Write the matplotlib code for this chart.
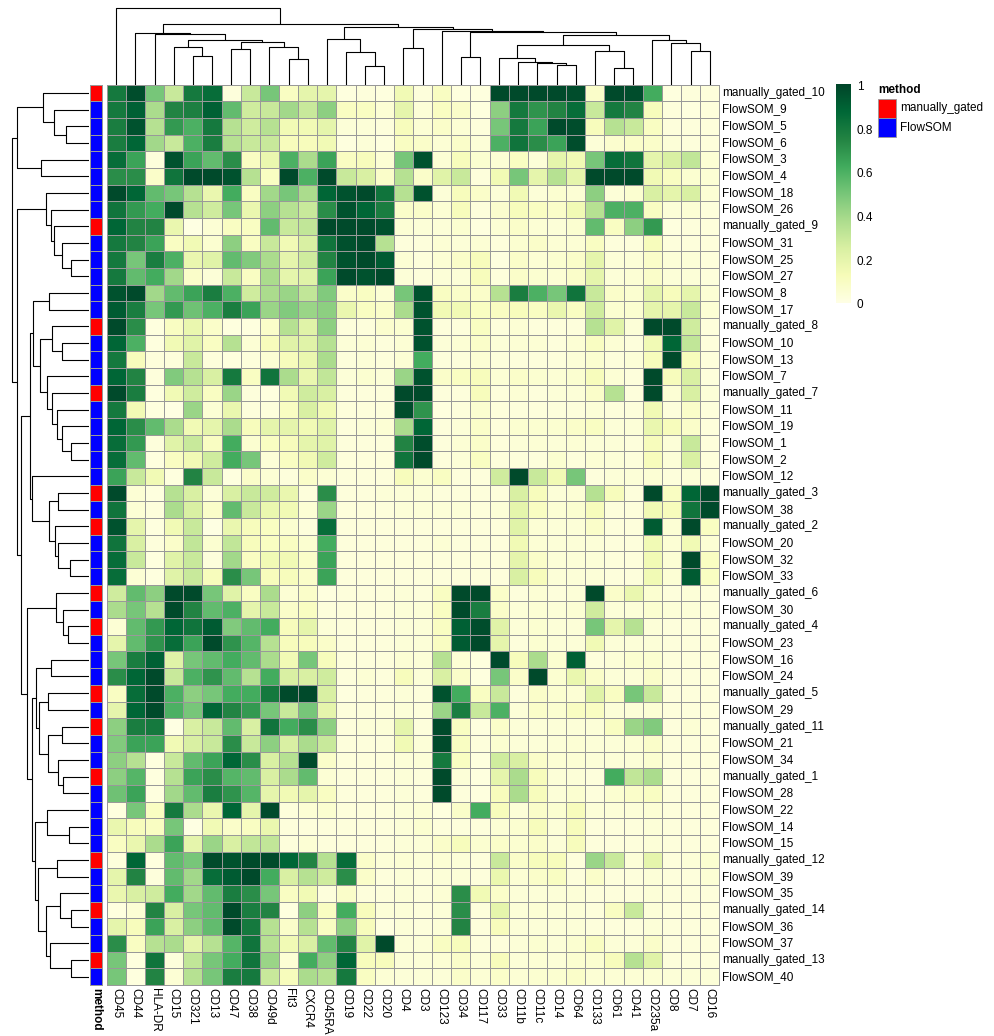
import numpy as np
import matplotlib
matplotlib.use("Agg")
import matplotlib.pyplot as plt
from matplotlib.colors import ListedColormap
from matplotlib.patches import Rectangle
from matplotlib import transforms

plt.rcParams['font.family'] = ['Liberation Sans', 'DejaVu Sans']

markers = ["CD45", "CD44", "HLA-DR", "CD15", "CD321", "CD13", "CD47", "CD38",
           "CD49d", "Flt3", "CXCR4", "CD45RA", "CD19", "CD22", "CD20", "CD4",
           "CD3", "CD123", "CD34", "CD117", "CD33", "CD11b", "CD11c", "CD14",
           "CD64", "CD133", "CD61", "CD41", "CD235a", "CD8", "CD7", "CD16"]

clusters = ["manually_gated_10", "FlowSOM_9", "FlowSOM_5", "FlowSOM_6", "FlowSOM_3",
            "FlowSOM_4", "FlowSOM_18", "FlowSOM_26", "manually_gated_9", "FlowSOM_31",
            "FlowSOM_25", "FlowSOM_27", "FlowSOM_8", "FlowSOM_17", "manually_gated_8",
            "FlowSOM_10", "FlowSOM_13", "FlowSOM_7", "manually_gated_7", "FlowSOM_11",
            "FlowSOM_19", "FlowSOM_1", "FlowSOM_2", "FlowSOM_12", "manually_gated_3",
            "FlowSOM_38", "manually_gated_2", "FlowSOM_20", "FlowSOM_32", "FlowSOM_33",
            "manually_gated_6", "FlowSOM_30", "manually_gated_4", "FlowSOM_23", "FlowSOM_16",
            "FlowSOM_24", "manually_gated_5", "FlowSOM_29", "manually_gated_11", "FlowSOM_21",
            "FlowSOM_34", "manually_gated_1", "FlowSOM_28", "FlowSOM_22", "FlowSOM_14",
            "FlowSOM_15", "manually_gated_12", "FlowSOM_39", "FlowSOM_35", "manually_gated_14",
            "FlowSOM_36", "FlowSOM_37", "manually_gated_13", "FlowSOM_40"]

method = ["manually_gated" if c.startswith("manually") else "FlowSOM" for c in clusters]
method_levels = ["manually_gated", "FlowSOM"]
method_colors = ["#FF0000", "#0000FF"]

# scaled median marker expression, one row per cluster (columns follow `markers`)
expr = [
    [0.80, 0.97, 0.50, 0.30, 0.80, 0.85, 0.03, 0.30, 0.50, 0.10, 0.20, 0.20, 0.02, 0.03, 0.02, 0.15, 0.03, 0.10, 0.02, 0.02, 0.98, 0.98, 0.98, 0.98, 0.97, 0.08, 0.98, 0.97, 0.62, 0.02, 0.03, 0.03],
    [0.80, 0.90, 0.38, 0.75, 0.77, 0.90, 0.55, 0.28, 0.30, 0.40, 0.30, 0.45, 0.10, 0.10, 0.05, 0.20, 0.04, 0.10, 0.08, 0.02, 0.45, 0.80, 0.70, 0.75, 0.85, 0.30, 0.80, 0.75, 0.12, 0.03, 0.02, 0.03],
    [0.78, 0.95, 0.35, 0.68, 0.60, 0.80, 0.35, 0.28, 0.35, 0.15, 0.15, 0.20, 0.04, 0.04, 0.03, 0.12, 0.05, 0.08, 0.05, 0.03, 0.50, 0.80, 0.65, 0.98, 0.97, 0.12, 0.35, 0.30, 0.10, 0.03, 0.03, 0.03],
    [0.78, 0.88, 0.40, 0.30, 0.60, 0.78, 0.35, 0.30, 0.30, 0.12, 0.12, 0.15, 0.02, 0.04, 0.02, 0.10, 0.08, 0.05, 0.08, 0.04, 0.60, 0.82, 0.72, 0.65, 0.97, 0.04, 0.07, 0.08, 0.08, 0.04, 0.03, 0.03],
    [0.85, 0.65, 0.03, 0.95, 0.65, 0.55, 0.72, 0.10, 0.18, 0.60, 0.38, 0.65, 0.10, 0.12, 0.05, 0.50, 0.95, 0.05, 0.12, 0.06, 0.05, 0.10, 0.04, 0.20, 0.15, 0.50, 0.85, 0.82, 0.20, 0.25, 0.32, 0.05],
    [0.72, 0.72, 0.08, 0.82, 0.98, 0.98, 0.95, 0.35, 0.10, 0.98, 0.60, 0.98, 0.30, 0.25, 0.08, 0.35, 0.08, 0.22, 0.30, 0.03, 0.15, 0.50, 0.20, 0.35, 0.20, 0.98, 0.98, 0.98, 0.15, 0.10, 0.06, 0.05],
    [0.98, 0.88, 0.55, 0.50, 0.35, 0.18, 0.62, 0.10, 0.40, 0.50, 0.38, 0.88, 0.95, 0.98, 0.82, 0.35, 0.95, 0.04, 0.12, 0.08, 0.04, 0.15, 0.04, 0.06, 0.05, 0.45, 0.04, 0.06, 0.25, 0.20, 0.25, 0.05],
    [0.82, 0.68, 0.62, 0.98, 0.35, 0.28, 0.50, 0.18, 0.45, 0.35, 0.30, 0.72, 0.95, 0.88, 0.78, 0.08, 0.08, 0.05, 0.12, 0.03, 0.07, 0.12, 0.10, 0.08, 0.15, 0.35, 0.60, 0.60, 0.10, 0.04, 0.05, 0.03],
    [0.88, 0.75, 0.75, 0.18, 0.01, 0.05, 0.10, 0.10, 0.55, 0.30, 0.32, 0.98, 0.98, 0.98, 0.96, 0.05, 0.04, 0.04, 0.06, 0.02, 0.05, 0.08, 0.05, 0.04, 0.06, 0.55, 0.10, 0.45, 0.68, 0.02, 0.03, 0.03],
    [0.80, 0.75, 0.65, 0.10, 0.15, 0.06, 0.45, 0.10, 0.30, 0.15, 0.25, 0.82, 0.96, 0.98, 0.35, 0.03, 0.03, 0.05, 0.04, 0.05, 0.03, 0.06, 0.08, 0.05, 0.05, 0.10, 0.03, 0.03, 0.12, 0.03, 0.03, 0.03],
    [0.80, 0.50, 0.78, 0.60, 0.18, 0.22, 0.55, 0.48, 0.38, 0.20, 0.28, 0.75, 0.95, 0.98, 0.92, 0.05, 0.03, 0.05, 0.08, 0.12, 0.02, 0.08, 0.05, 0.06, 0.08, 0.20, 0.04, 0.04, 0.08, 0.04, 0.04, 0.03],
    [0.80, 0.55, 0.62, 0.40, 0.08, 0.04, 0.30, 0.10, 0.38, 0.20, 0.22, 0.65, 0.98, 0.95, 0.98, 0.04, 0.03, 0.04, 0.04, 0.12, 0.03, 0.08, 0.06, 0.05, 0.08, 0.20, 0.04, 0.05, 0.08, 0.04, 0.04, 0.03],
    [0.95, 0.98, 0.40, 0.55, 0.65, 0.78, 0.60, 0.28, 0.38, 0.42, 0.32, 0.48, 0.08, 0.10, 0.05, 0.50, 0.95, 0.10, 0.08, 0.08, 0.35, 0.78, 0.60, 0.50, 0.82, 0.30, 0.08, 0.06, 0.20, 0.12, 0.20, 0.05],
    [0.92, 0.78, 0.50, 0.68, 0.52, 0.60, 0.78, 0.65, 0.42, 0.48, 0.42, 0.45, 0.18, 0.10, 0.08, 0.38, 0.95, 0.15, 0.15, 0.10, 0.10, 0.12, 0.10, 0.18, 0.10, 0.28, 0.06, 0.06, 0.20, 0.20, 0.30, 0.05],
    [0.98, 0.72, 0.02, 0.10, 0.18, 0.08, 0.02, 0.02, 0.08, 0.35, 0.22, 0.45, 0.03, 0.03, 0.07, 0.06, 0.95, 0.03, 0.03, 0.10, 0.03, 0.05, 0.03, 0.03, 0.03, 0.35, 0.22, 0.04, 0.98, 0.98, 0.28, 0.03],
    [0.88, 0.60, 0.02, 0.15, 0.22, 0.10, 0.35, 0.05, 0.12, 0.22, 0.22, 0.35, 0.04, 0.05, 0.03, 0.05, 0.95, 0.04, 0.05, 0.08, 0.04, 0.05, 0.05, 0.03, 0.05, 0.10, 0.05, 0.03, 0.15, 0.88, 0.32, 0.03],
    [0.80, 0.12, 0.03, 0.03, 0.30, 0.03, 0.02, 0.03, 0.05, 0.12, 0.18, 0.38, 0.03, 0.04, 0.03, 0.05, 0.62, 0.03, 0.03, 0.05, 0.03, 0.03, 0.03, 0.03, 0.04, 0.06, 0.03, 0.04, 0.12, 0.98, 0.12, 0.03],
    [0.88, 0.75, 0.03, 0.48, 0.35, 0.25, 0.80, 0.10, 0.82, 0.38, 0.18, 0.32, 0.04, 0.06, 0.04, 0.42, 0.95, 0.08, 0.10, 0.12, 0.05, 0.08, 0.06, 0.05, 0.06, 0.12, 0.05, 0.03, 0.98, 0.12, 0.25, 0.03],
    [0.98, 0.78, 0.02, 0.15, 0.28, 0.10, 0.42, 0.03, 0.02, 0.15, 0.28, 0.25, 0.03, 0.03, 0.03, 0.98, 0.98, 0.03, 0.03, 0.12, 0.03, 0.05, 0.03, 0.04, 0.04, 0.08, 0.35, 0.03, 0.98, 0.05, 0.25, 0.04],
    [0.80, 0.15, 0.02, 0.01, 0.42, 0.05, 0.18, 0.03, 0.03, 0.10, 0.25, 0.15, 0.03, 0.03, 0.03, 0.97, 0.70, 0.02, 0.03, 0.06, 0.03, 0.03, 0.03, 0.03, 0.03, 0.04, 0.03, 0.03, 0.15, 0.03, 0.08, 0.03],
    [0.88, 0.72, 0.55, 0.38, 0.15, 0.20, 0.38, 0.12, 0.20, 0.20, 0.15, 0.22, 0.03, 0.04, 0.05, 0.38, 0.88, 0.03, 0.04, 0.08, 0.03, 0.06, 0.06, 0.06, 0.08, 0.10, 0.04, 0.04, 0.18, 0.12, 0.08, 0.03],
    [0.85, 0.68, 0.03, 0.22, 0.30, 0.10, 0.62, 0.06, 0.10, 0.12, 0.20, 0.22, 0.03, 0.03, 0.03, 0.75, 0.97, 0.03, 0.05, 0.08, 0.03, 0.04, 0.05, 0.04, 0.05, 0.04, 0.04, 0.03, 0.12, 0.04, 0.30, 0.03],
    [0.85, 0.55, 0.02, 0.10, 0.15, 0.28, 0.62, 0.50, 0.04, 0.10, 0.15, 0.28, 0.03, 0.03, 0.03, 0.82, 0.98, 0.03, 0.04, 0.10, 0.03, 0.03, 0.03, 0.06, 0.03, 0.05, 0.04, 0.03, 0.12, 0.04, 0.25, 0.03],
    [0.65, 0.30, 0.15, 0.02, 0.75, 0.30, 0.02, 0.08, 0.05, 0.03, 0.08, 0.05, 0.03, 0.03, 0.03, 0.12, 0.06, 0.10, 0.03, 0.03, 0.28, 0.98, 0.30, 0.15, 0.50, 0.03, 0.04, 0.04, 0.05, 0.03, 0.04, 0.03],
    [0.98, 0.05, 0.02, 0.35, 0.25, 0.04, 0.25, 0.30, 0.28, 0.18, 0.03, 0.72, 0.03, 0.03, 0.04, 0.04, 0.04, 0.03, 0.03, 0.03, 0.03, 0.25, 0.12, 0.04, 0.05, 0.35, 0.12, 0.03, 0.98, 0.10, 0.88, 0.98],
    [0.82, 0.05, 0.03, 0.38, 0.25, 0.08, 0.55, 0.30, 0.18, 0.15, 0.05, 0.42, 0.03, 0.03, 0.03, 0.04, 0.04, 0.04, 0.04, 0.03, 0.04, 0.20, 0.10, 0.05, 0.06, 0.12, 0.03, 0.03, 0.15, 0.12, 0.82, 0.98],
    [0.95, 0.20, 0.02, 0.15, 0.30, 0.01, 0.18, 0.12, 0.10, 0.06, 0.03, 0.85, 0.03, 0.03, 0.03, 0.03, 0.03, 0.03, 0.03, 0.03, 0.03, 0.22, 0.05, 0.04, 0.04, 0.08, 0.03, 0.03, 0.92, 0.05, 0.98, 0.10],
    [0.82, 0.25, 0.03, 0.08, 0.32, 0.06, 0.32, 0.12, 0.10, 0.10, 0.06, 0.62, 0.03, 0.03, 0.03, 0.03, 0.03, 0.05, 0.03, 0.03, 0.03, 0.15, 0.05, 0.04, 0.04, 0.04, 0.03, 0.03, 0.15, 0.05, 0.15, 0.05],
    [0.85, 0.30, 0.02, 0.22, 0.30, 0.03, 0.40, 0.10, 0.15, 0.15, 0.08, 0.65, 0.03, 0.03, 0.03, 0.03, 0.03, 0.03, 0.03, 0.03, 0.03, 0.20, 0.08, 0.04, 0.04, 0.04, 0.03, 0.03, 0.15, 0.05, 0.98, 0.10],
    [0.85, 0.05, 0.02, 0.22, 0.30, 0.12, 0.72, 0.50, 0.12, 0.12, 0.08, 0.65, 0.03, 0.03, 0.03, 0.03, 0.03, 0.03, 0.03, 0.03, 0.03, 0.25, 0.12, 0.04, 0.04, 0.04, 0.03, 0.03, 0.15, 0.05, 0.92, 0.10],
    [0.28, 0.55, 0.45, 0.98, 0.98, 0.50, 0.22, 0.10, 0.38, 0.05, 0.08, 0.02, 0.03, 0.03, 0.03, 0.04, 0.03, 0.10, 0.98, 0.98, 0.08, 0.03, 0.05, 0.03, 0.04, 0.98, 0.08, 0.18, 0.06, 0.03, 0.04, 0.03],
    [0.38, 0.50, 0.35, 0.98, 0.75, 0.55, 0.60, 0.20, 0.30, 0.08, 0.10, 0.03, 0.03, 0.03, 0.03, 0.04, 0.04, 0.10, 0.98, 0.78, 0.08, 0.04, 0.05, 0.04, 0.05, 0.28, 0.04, 0.04, 0.06, 0.04, 0.04, 0.03],
    [0.05, 0.55, 0.68, 0.88, 0.82, 0.92, 0.48, 0.55, 0.62, 0.12, 0.20, 0.04, 0.03, 0.03, 0.03, 0.04, 0.04, 0.10, 0.90, 0.97, 0.22, 0.04, 0.06, 0.04, 0.04, 0.50, 0.20, 0.35, 0.04, 0.03, 0.03, 0.03],
    [0.20, 0.55, 0.70, 0.85, 0.65, 0.98, 0.70, 0.58, 0.35, 0.12, 0.12, 0.08, 0.03, 0.03, 0.03, 0.04, 0.04, 0.10, 0.92, 0.98, 0.20, 0.03, 0.06, 0.04, 0.04, 0.15, 0.04, 0.04, 0.04, 0.03, 0.03, 0.03],
    [0.50, 0.78, 0.90, 0.22, 0.50, 0.55, 0.62, 0.55, 0.38, 0.15, 0.50, 0.12, 0.03, 0.03, 0.03, 0.05, 0.04, 0.35, 0.05, 0.02, 0.98, 0.12, 0.38, 0.06, 0.90, 0.03, 0.04, 0.06, 0.06, 0.03, 0.03, 0.03],
    [0.72, 0.88, 0.98, 0.30, 0.60, 0.70, 0.55, 0.35, 0.62, 0.25, 0.25, 0.28, 0.03, 0.05, 0.03, 0.12, 0.04, 0.25, 0.08, 0.02, 0.50, 0.08, 0.98, 0.06, 0.18, 0.08, 0.04, 0.04, 0.08, 0.03, 0.03, 0.03],
    [0.10, 0.85, 0.98, 0.60, 0.45, 0.50, 0.62, 0.62, 0.80, 0.98, 0.98, 0.25, 0.02, 0.03, 0.03, 0.04, 0.03, 0.95, 0.62, 0.10, 0.30, 0.03, 0.08, 0.06, 0.05, 0.22, 0.10, 0.50, 0.30, 0.03, 0.03, 0.03],
    [0.20, 0.88, 0.98, 0.60, 0.50, 0.88, 0.75, 0.68, 0.50, 0.30, 0.50, 0.20, 0.03, 0.03, 0.03, 0.04, 0.03, 0.42, 0.78, 0.30, 0.60, 0.04, 0.08, 0.06, 0.10, 0.10, 0.04, 0.04, 0.05, 0.03, 0.03, 0.03],
    [0.45, 0.78, 0.80, 0.01, 0.25, 0.30, 0.55, 0.25, 0.82, 0.62, 0.72, 0.45, 0.03, 0.04, 0.04, 0.20, 0.03, 0.98, 0.10, 0.02, 0.08, 0.04, 0.04, 0.04, 0.04, 0.04, 0.10, 0.42, 0.48, 0.03, 0.05, 0.03],
    [0.48, 0.65, 0.65, 0.15, 0.25, 0.30, 0.72, 0.30, 0.45, 0.25, 0.38, 0.30, 0.03, 0.03, 0.03, 0.15, 0.04, 0.98, 0.10, 0.03, 0.06, 0.04, 0.04, 0.04, 0.05, 0.04, 0.04, 0.05, 0.08, 0.03, 0.03, 0.03],
    [0.45, 0.35, 0.02, 0.30, 0.55, 0.65, 0.88, 0.72, 0.25, 0.35, 0.98, 0.08, 0.03, 0.03, 0.03, 0.04, 0.04, 0.80, 0.10, 0.02, 0.28, 0.25, 0.08, 0.05, 0.05, 0.04, 0.04, 0.04, 0.06, 0.03, 0.03, 0.03],
    [0.45, 0.58, 0.02, 0.35, 0.65, 0.72, 0.58, 0.55, 0.25, 0.38, 0.55, 0.05, 0.03, 0.03, 0.03, 0.04, 0.03, 0.98, 0.04, 0.02, 0.20, 0.38, 0.12, 0.04, 0.04, 0.03, 0.62, 0.32, 0.38, 0.03, 0.03, 0.03],
    [0.52, 0.65, 0.02, 0.40, 0.55, 0.78, 0.70, 0.58, 0.20, 0.15, 0.20, 0.10, 0.03, 0.03, 0.03, 0.04, 0.03, 0.98, 0.03, 0.02, 0.12, 0.38, 0.12, 0.04, 0.06, 0.03, 0.06, 0.08, 0.10, 0.03, 0.03, 0.03],
    [0.02, 0.50, 0.10, 0.80, 0.38, 0.18, 0.88, 0.20, 0.98, 0.03, 0.05, 0.06, 0.03, 0.03, 0.03, 0.04, 0.05, 0.02, 0.08, 0.62, 0.12, 0.04, 0.08, 0.06, 0.12, 0.04, 0.04, 0.04, 0.05, 0.03, 0.03, 0.03],
    [0.18, 0.12, 0.10, 0.50, 0.01, 0.15, 0.08, 0.10, 0.18, 0.03, 0.03, 0.03, 0.03, 0.03, 0.03, 0.04, 0.06, 0.03, 0.03, 0.03, 0.05, 0.06, 0.12, 0.04, 0.12, 0.03, 0.03, 0.03, 0.04, 0.03, 0.03, 0.03],
    [0.10, 0.18, 0.38, 0.65, 0.20, 0.42, 0.25, 0.32, 0.32, 0.03, 0.05, 0.03, 0.03, 0.03, 0.03, 0.04, 0.04, 0.08, 0.12, 0.06, 0.08, 0.06, 0.08, 0.04, 0.12, 0.03, 0.03, 0.03, 0.04, 0.03, 0.03, 0.03],
    [0.03, 0.88, 0.02, 0.55, 0.50, 0.98, 0.95, 0.98, 0.98, 0.88, 0.75, 0.35, 0.85, 0.08, 0.04, 0.05, 0.04, 0.05, 0.04, 0.03, 0.30, 0.08, 0.12, 0.12, 0.03, 0.42, 0.30, 0.04, 0.20, 0.03, 0.04, 0.06],
    [0.20, 0.75, 0.03, 0.55, 0.40, 0.85, 0.92, 0.98, 0.62, 0.25, 0.35, 0.28, 0.72, 0.08, 0.03, 0.04, 0.03, 0.04, 0.04, 0.03, 0.18, 0.05, 0.08, 0.10, 0.03, 0.08, 0.03, 0.03, 0.04, 0.03, 0.03, 0.05],
    [0.18, 0.25, 0.28, 0.62, 0.40, 0.55, 0.78, 0.72, 0.50, 0.10, 0.15, 0.03, 0.08, 0.03, 0.03, 0.04, 0.03, 0.05, 0.72, 0.15, 0.08, 0.04, 0.04, 0.04, 0.04, 0.03, 0.03, 0.03, 0.04, 0.03, 0.03, 0.03],
    [0.02, 0.05, 0.75, 0.25, 0.50, 0.55, 0.98, 0.78, 0.75, 0.02, 0.45, 0.10, 0.62, 0.12, 0.04, 0.04, 0.03, 0.04, 0.72, 0.03, 0.20, 0.04, 0.05, 0.04, 0.04, 0.03, 0.10, 0.30, 0.04, 0.03, 0.03, 0.03],
    [0.20, 0.12, 0.65, 0.25, 0.45, 0.55, 0.98, 0.80, 0.35, 0.08, 0.35, 0.10, 0.45, 0.12, 0.02, 0.04, 0.03, 0.04, 0.75, 0.03, 0.12, 0.04, 0.04, 0.04, 0.04, 0.03, 0.03, 0.03, 0.04, 0.03, 0.03, 0.03],
    [0.72, 0.10, 0.35, 0.38, 0.20, 0.35, 0.58, 0.82, 0.35, 0.15, 0.25, 0.55, 0.75, 0.22, 0.98, 0.04, 0.04, 0.10, 0.12, 0.03, 0.03, 0.04, 0.06, 0.04, 0.06, 0.10, 0.04, 0.04, 0.08, 0.03, 0.03, 0.03],
    [0.50, 0.02, 0.82, 0.03, 0.32, 0.50, 0.62, 0.82, 0.42, 0.05, 0.62, 0.45, 0.88, 0.12, 0.12, 0.04, 0.04, 0.05, 0.08, 0.04, 0.12, 0.04, 0.05, 0.04, 0.06, 0.06, 0.12, 0.35, 0.22, 0.03, 0.03, 0.03],
    [0.50, 0.02, 0.75, 0.05, 0.35, 0.50, 0.78, 0.80, 0.30, 0.12, 0.38, 0.35, 0.80, 0.10, 0.05, 0.04, 0.04, 0.04, 0.08, 0.05, 0.08, 0.05, 0.06, 0.06, 0.08, 0.05, 0.05, 0.05, 0.05, 0.04, 0.04, 0.04],
]

# hierarchical clustering merges (scipy-style ids: < n are leaves, >= n are earlier merges)
col_merges = [
    (9, 10, 78), (8, 32, 115), (6, 7, 107), (34, 33, 130), (4, 5, 88),
    (3, 36, 115), (37, 35, 135), (2, 38, 152), (1, 39, 157), (13, 14, 58),
    (12, 41, 100), (11, 42, 139), (15, 16, 110), (18, 19, 85), (23, 24, 61),
    (22, 46, 65), (21, 47, 70), (20, 48, 80), (26, 27, 51), (25, 50, 103),
    (49, 51, 120), (30, 31, 103), (29, 53, 127), (28, 54, 135), (52, 55, 150),
    (45, 56, 158), (17, 57, 162), (44, 58, 169), (43, 59, 175), (40, 60, 182),
    (0, 61, 230),
]

row_merges = [
    (2, 3, 71), (1, 54, 106), (0, 55, 138), (4, 5, 146), (56, 57, 216),
    (10, 11, 55), (9, 59, 81), (8, 60, 106), (7, 61, 116), (6, 62, 130),
    (12, 13, 121), (15, 16, 81), (14, 65, 111), (21, 22, 55), (20, 67, 81),
    (19, 68, 96), (18, 69, 111), (17, 70, 128), (66, 71, 148), (64, 72, 168),
    (24, 25, 93), (28, 29, 58), (27, 75, 93), (26, 76, 103), (74, 77, 121),
    (23, 78, 173), (73, 79, 178), (32, 33, 63), (31, 81, 80), (30, 82, 100),
    (34, 35, 116), (36, 37, 123), (38, 39, 83), (41, 42, 80), (40, 87, 93),
    (86, 88, 125), (85, 89, 151), (84, 90, 161), (44, 45, 60), (43, 92, 128),
    (46, 47, 96), (49, 50, 55), (48, 95, 88), (52, 53, 55), (51, 97, 118),
    (96, 98, 131), (94, 99, 153), (93, 100, 163), (91, 101, 173), (83, 102, 188),
    (80, 103, 206), (63, 104, 218), (58, 105, 233),
]

W, H = 995, 1036
fig = plt.figure(figsize=(W / 100, H / 100), dpi=100)
FS = 8.5
GRID = "#999999"
GRID_LW = 0.6


def px_axes(x0, y0, x1, y1):
    return fig.add_axes([x0 / W, 1 - y1 / H, (x1 - x0) / W, (y1 - y0) / H])


def dendro_segments(merges, n):
    pos = {i: i + 0.5 for i in range(n)}
    hgt = {i: 0.0 for i in range(n)}
    segs = []
    for k, (a, b, h) in enumerate(merges):
        pa, pb = pos[a], pos[b]
        segs.append(([pa, pa, pb, pb], [hgt[a], h, h, hgt[b]]))
        pos[n + k] = (pa + pb) / 2.0
        hgt[n + k] = h
    return segs


n_rows, n_cols = len(clusters), len(markers)
HX0, HX1, HY0, HY1 = 106.7, 719.3, 84.5, 985.0

# main heatmap
ax = px_axes(HX0, HY0, HX1, HY1)
mesh = ax.pcolormesh(np.arange(n_cols + 1), np.arange(n_rows + 1), np.array(expr),
                     cmap="YlGn", vmin=0, vmax=1, edgecolors=GRID, linewidth=GRID_LW)
mesh.set_clip_on(False)
ax.set_xlim(0, n_cols)
ax.set_ylim(n_rows, 0)
ax.axis("off")

row_tr = transforms.offset_copy(ax.transData, fig=fig, x=3, y=0, units="dots")
for i, name in enumerate(clusters):
    ax.text(n_cols, i + 0.5, name, transform=row_tr, ha="left", va="center",
            fontsize=FS, color="black")
col_tr = transforms.offset_copy(ax.transData, fig=fig, x=0, y=-3, units="dots")
for j, name in enumerate(markers):
    ax.text(j + 0.5, n_rows, name, transform=col_tr, rotation=270, ha="center",
            va="top", fontsize=FS, color="black")

# method annotation column
axa = px_axes(89.7, HY0, 102.0, HY1)
codes = np.array([[method_levels.index(m)] for m in method])
amesh = axa.pcolormesh(np.arange(2), np.arange(n_rows + 1), codes,
                       cmap=ListedColormap(method_colors), vmin=-0.5, vmax=1.5,
                       edgecolors=GRID, linewidth=GRID_LW)
amesh.set_clip_on(False)
axa.set_xlim(0, 1)
axa.set_ylim(n_rows, 0)
axa.axis("off")
axa.text(0.5, n_rows, "method", transform=transforms.offset_copy(axa.transData, fig=fig, x=0, y=-3, units="dots"),
         rotation=270, ha="center", va="top", fontsize=FS, fontweight="bold")

# column dendrogram
axt = px_axes(HX0, 0, HX1, 85)
for xs, ys in dendro_segments(col_merges, n_cols):
    axt.plot(xs, ys, color="black", lw=0.8, solid_capstyle="butt")
axt.set_xlim(0, n_cols)
axt.set_ylim(0, 255)
axt.axis("off")

# row dendrogram
axl = px_axes(0, HY0, 89.3, HY1)
for ps, hs in dendro_segments(row_merges, n_rows):
    axl.plot(hs, ps, color="black", lw=0.8, solid_capstyle="butt")
axl.set_xlim(268, 0)
axl.set_ylim(n_rows, 0)
axl.axis("off")

# colour key
axc = px_axes(836, 84, 850.7, 303)
axc.imshow(np.linspace(0, 1, 256)[::-1].reshape(-1, 1), aspect="auto", cmap="YlGn",
           vmin=0, vmax=1, extent=(0, 1, 0, 1))
axc.axis("off")
for v, lab in zip([0, 0.2, 0.4, 0.6, 0.8, 1.0], ["0", "0.2", "0.4", "0.6", "0.8", "1"]):
    y = 305.5 - v * 218.5
    fig.text(857 / W, 1 - y / H, lab, ha="left", va="center", fontsize=FS)

# method legend
fig.text(878 / W, 1 - 90 / H, "method", ha="left", va="center", fontsize=FS, fontweight="bold")
for k, (lab, col) in enumerate(zip(method_levels, method_colors)):
    y0 = 99 + k * 19.3
    fig.add_artist(Rectangle((877.7 / W, 1 - (y0 + 18.5) / H), 18.5 / W, 18.5 / H,
                             transform=fig.transFigure, facecolor=col, edgecolor=GRID, lw=GRID_LW))
    fig.text(900 / W, 1 - (y0 + 9.3) / H, lab, ha="left", va="center", fontsize=FS)

fig.savefig("out.png", dpi=100)
